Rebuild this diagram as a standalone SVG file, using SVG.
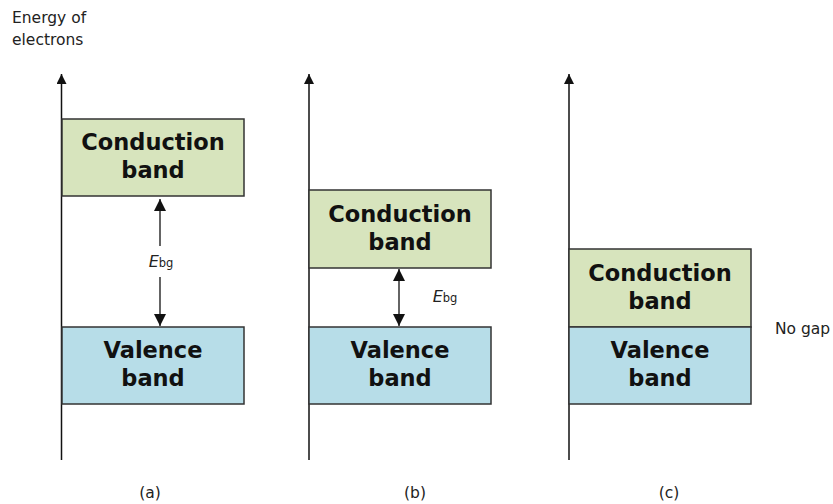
<svg xmlns="http://www.w3.org/2000/svg" width="833" height="504" viewBox="0 0 833 504">
<style>
.cb{fill:#d7e4bd;stroke:#333;stroke-width:1.5}
.vb{fill:#b7dde8;stroke:#333;stroke-width:1.5}
.bt{font-family:"DejaVu Sans",Verdana,sans-serif;font-weight:bold;font-size:22.5px;fill:#111;text-anchor:middle}
.lt{font-family:"DejaVu Sans",Verdana,sans-serif;font-size:15.5px;fill:#222}
.eb{font-family:"DejaVu Sans",Verdana,sans-serif;font-size:16px;fill:#222;font-style:italic;text-anchor:middle}
.ax{stroke:#111;stroke-width:1.5;fill:none}
.dim{stroke:#111;stroke-width:1.3;fill:none}
</style>
<defs>
<marker id="ah" viewBox="0 0 10 10" refX="10" refY="5" markerWidth="10" markerHeight="10" markerUnits="userSpaceOnUse" orient="auto">
<path d="M0,0 L10,5 L0,10 z" fill="#111"/>
</marker>
<marker id="ah2" viewBox="0 0 10 10" refX="10" refY="5" markerWidth="12" markerHeight="12" markerUnits="userSpaceOnUse" orient="auto-start-reverse">
<path d="M0,0 L10,5 L0,10 z" fill="#111"/>
</marker>
</defs>
<rect width="833" height="504" fill="#fff"/>
<g id="axis-label">
<text class="lt" x="12" y="23">Energy of</text>
<text class="lt" x="12" y="45">electrons</text>
</g>
<g id="connectors">
<line class="ax" x1="61.5" y1="460" x2="61.5" y2="74" marker-end="url(#ah)"/>
<line class="ax" x1="309" y1="460" x2="309" y2="74" marker-end="url(#ah)"/>
<line class="ax" x1="569" y1="460" x2="569" y2="74" marker-end="url(#ah)"/>
<line class="dim" x1="160" y1="246" x2="160" y2="199" marker-end="url(#ah2)"/>
<line class="dim" x1="160" y1="277" x2="160" y2="326" marker-end="url(#ah2)"/>
<line class="dim" x1="399" y1="269" x2="399" y2="326" marker-start="url(#ah2)" marker-end="url(#ah2)"/>
</g>
<g id="a-conduction">
<rect class="cb" x="62" y="119" width="182" height="77"/>
<text class="bt" x="153" y="150">Conduction</text>
<text class="bt" x="153" y="178">band</text>
</g>
<g id="a-valence">
<rect class="vb" x="62" y="327" width="182" height="77"/>
<text class="bt" x="153" y="358">Valence</text>
<text class="bt" x="153" y="386">band</text>
</g>
<g id="a-ebg">
<text class="eb" x="161" y="267">E<tspan font-style="normal" font-size="11.5">bg</tspan></text>
</g>
<g id="b-conduction">
<rect class="cb" x="309" y="190" width="182" height="78"/>
<text class="bt" x="400" y="222">Conduction</text>
<text class="bt" x="400" y="250">band</text>
</g>
<g id="b-valence">
<rect class="vb" x="309" y="327" width="182" height="77"/>
<text class="bt" x="400" y="358">Valence</text>
<text class="bt" x="400" y="386">band</text>
</g>
<g id="b-ebg">
<text class="eb" x="445" y="302">E<tspan font-style="normal" font-size="11.5">bg</tspan></text>
</g>
<g id="c-conduction">
<rect class="cb" x="569" y="249" width="182" height="78"/>
<text class="bt" x="660" y="281">Conduction</text>
<text class="bt" x="660" y="309">band</text>
</g>
<g id="c-valence">
<rect class="vb" x="569" y="327" width="182" height="77"/>
<text class="bt" x="660" y="358">Valence</text>
<text class="bt" x="660" y="386">band</text>
</g>
<g id="c-nogap">
<text class="lt" x="775" y="334">No gap</text>
</g>
<g id="captions">
<text class="lt" x="150" y="498" text-anchor="middle">(a)</text>
<text class="lt" x="415" y="498" text-anchor="middle">(b)</text>
<text class="lt" x="669" y="498" text-anchor="middle">(c)</text>
</g>
</svg>
